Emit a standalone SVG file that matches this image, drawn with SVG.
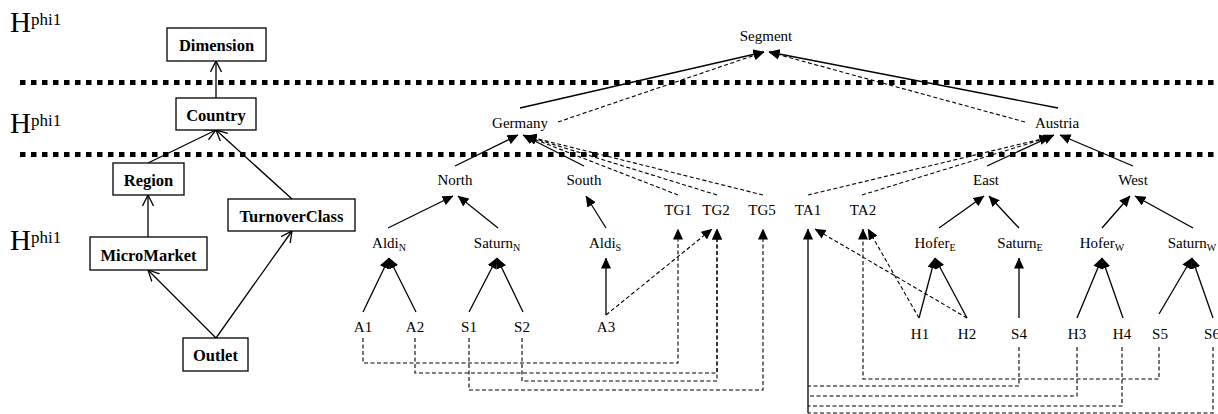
<svg xmlns="http://www.w3.org/2000/svg" width="1218" height="414" viewBox="0 0 1218 414">
<style>
.box{fill:#fff;stroke:#000;stroke-width:1.3}
.bl{font-family:"Liberation Serif","Times New Roman",serif;font-weight:bold;font-size:16.5px;text-anchor:middle;fill:#000}
.tl{font-family:"Liberation Serif","Times New Roman",serif;font-size:15px;text-anchor:middle;fill:#000}
.sub{font-size:10px}
.hl{font-family:"Liberation Serif","Times New Roman",serif;font-size:29px;fill:#000}
.hs{font-size:17px}
.sep{stroke:#000;stroke-width:5;stroke-dasharray:5.5 5.5;fill:none}
.s{stroke:#000;stroke-width:1.3;fill:none}
.d{stroke:#000;stroke-width:1.1;stroke-dasharray:4 2.5;fill:none}
.ta{marker-end:url(#fa)}
.oa{marker-end:url(#oa)}
</style>
<defs>
<marker id="fa" viewBox="0 0 11 10" refX="10.5" refY="5" markerWidth="11" markerHeight="10" markerUnits="userSpaceOnUse" orient="auto">
<path d="M0,0 L11,5 L0,10 z" fill="#000"/>
</marker>
<marker id="oa" viewBox="0 0 12 12" refX="11" refY="6" markerWidth="12" markerHeight="12" markerUnits="userSpaceOnUse" orient="auto">
<path d="M0,0.5 L11,6 L0,11.5" fill="none" stroke="#000" stroke-width="1.3"/>
</marker>
</defs>

<g id="levels">
<text class="hl" x="10" y="32">H<tspan class="hs" dy="-7">phi1</tspan></text>
<text class="hl" x="10" y="133">H<tspan class="hs" dy="-7">phi1</tspan></text>
<text class="hl" x="10" y="250">H<tspan class="hs" dy="-7">phi1</tspan></text>
<line class="sep" x1="20" y1="82.5" x2="1218" y2="82.5"/>
<line class="sep" x1="20" y1="154.5" x2="1218" y2="154.5"/>
</g>

<g id="connectors">
<!-- schema -->
<line class="s oa" x1="216" y1="98" x2="216" y2="61"/>
<line class="s oa" x1="148" y1="163" x2="216" y2="130"/>
<line class="s oa" x1="292" y1="199" x2="216" y2="130"/>
<line class="s oa" x1="148" y1="237" x2="148" y2="195"/>
<line class="s oa" x1="216" y1="338" x2="148" y2="270"/>
<line class="s oa" x1="216" y1="338" x2="292" y2="231"/>
<!-- to Segment -->
<line class="s ta" x1="520" y1="108" x2="764" y2="52"/>
<line class="d ta" x1="558" y1="122" x2="764" y2="52"/>
<line class="s ta" x1="1058" y1="108" x2="769" y2="52"/>
<line class="d ta" x1="1025" y1="122" x2="769" y2="52"/>
<!-- to Germany -->
<line class="s ta" x1="455" y1="166" x2="518" y2="135"/>
<line class="s ta" x1="584" y1="166" x2="523" y2="135"/>
<line class="d ta" x1="678" y1="195" x2="526" y2="136"/>
<line class="d ta" x1="717" y1="195" x2="526" y2="136"/>
<line class="d ta" x1="763" y1="195" x2="526" y2="136"/>
<!-- to Austria -->
<line class="s ta" x1="987" y1="166" x2="1054" y2="135"/>
<line class="s ta" x1="1133" y1="166" x2="1060" y2="135"/>
<line class="d ta" x1="808" y1="195" x2="1050" y2="137"/>
<line class="d ta" x1="862" y1="195" x2="1050" y2="137"/>
<!-- level 4 to level 2 -->
<line class="s ta" x1="388" y1="228" x2="453" y2="196"/>
<line class="s ta" x1="498" y1="228" x2="458" y2="196"/>
<line class="s ta" x1="606" y1="228" x2="586" y2="196"/>
<line class="s ta" x1="939" y1="228" x2="984" y2="196"/>
<line class="s ta" x1="1019" y1="228" x2="989" y2="196"/>
<line class="s ta" x1="1102" y1="228" x2="1130" y2="196"/>
<line class="s ta" x1="1193" y1="228" x2="1135" y2="196"/>
<!-- level 5 to level 4 -->
<line class="s ta" x1="363" y1="312" x2="389" y2="258"/>
<line class="s ta" x1="416" y1="312" x2="389" y2="258"/>
<line class="s ta" x1="469" y1="312" x2="497" y2="258"/>
<line class="s ta" x1="523" y1="312" x2="497" y2="258"/>
<line class="s ta" x1="606" y1="315" x2="606" y2="258"/>
<line class="s ta" x1="919" y1="318" x2="935" y2="258"/>
<line class="s ta" x1="967" y1="318" x2="935" y2="258"/>
<line class="s ta" x1="1019" y1="318" x2="1019" y2="258"/>
<line class="s ta" x1="1077" y1="318" x2="1102" y2="258"/>
<line class="s ta" x1="1123" y1="318" x2="1102" y2="258"/>
<line class="s ta" x1="1159" y1="314" x2="1192" y2="258"/>
<line class="s ta" x1="1213" y1="318" x2="1192" y2="258"/>
<!-- level 5 to level 3 -->
<line class="d ta" x1="606" y1="315" x2="712" y2="229"/>
<line class="d ta" x1="919" y1="318" x2="868" y2="229"/>
<line class="d ta" x1="967" y1="318" x2="815" y2="229"/>
<path class="d ta" d="M363,338 V363 H678 V229"/>
<path class="d ta" d="M415,338 V373 H717 V229"/>
<path class="d ta" d="M522,338 V381 H717 V229"/>
<path class="d ta" d="M469,338 V390 H763 V229"/>
<path class="d ta" d="M1159,347 V379 H863 V229"/>
<path class="d" d="M1019,347 V386 H808"/>
<path class="d" d="M1077,347 V396 H808"/>
<path class="d" d="M1122,347 V406 H808"/>
<path class="d" d="M1213,347 V413 H808"/>
<line class="s ta" x1="808" y1="413" x2="808" y2="229"/>
</g>

<g id="n-dimension"><rect class="box" x="167" y="28" width="99" height="33"/><text class="bl" x="216.5" y="51">Dimension</text></g>
<g id="n-country"><rect class="box" x="176" y="98" width="80" height="32"/><text class="bl" x="216" y="121">Country</text></g>
<g id="n-region"><rect class="box" x="113" y="163" width="71" height="32"/><text class="bl" x="148.5" y="186">Region</text></g>
<g id="n-turnoverclass"><rect class="box" x="228" y="199" width="127" height="32"/><text class="bl" x="291.5" y="222">TurnoverClass</text></g>
<g id="n-micromarket"><rect class="box" x="90" y="237" width="117" height="33"/><text class="bl" x="148.5" y="261">MicroMarket</text></g>
<g id="n-outlet"><rect class="box" x="183" y="338" width="65" height="33"/><text class="bl" x="215.5" y="361">Outlet</text></g>

<g id="n-segment"><text class="tl" x="766" y="41">Segment</text></g>
<g id="n-germany"><text class="tl" x="520" y="128">Germany</text></g>
<g id="n-austria"><text class="tl" x="1057" y="128">Austria</text></g>
<g id="n-north"><text class="tl" x="455" y="185">North</text></g>
<g id="n-south"><text class="tl" x="584" y="185">South</text></g>
<g id="n-east"><text class="tl" x="986" y="185">East</text></g>
<g id="n-west"><text class="tl" x="1133" y="185">West</text></g>
<g id="n-tg1"><text class="tl" x="678" y="215">TG1</text></g>
<g id="n-tg2"><text class="tl" x="716" y="215">TG2</text></g>
<g id="n-tg5"><text class="tl" x="762" y="215">TG5</text></g>
<g id="n-ta1"><text class="tl" x="808" y="215">TA1</text></g>
<g id="n-ta2"><text class="tl" x="863" y="215">TA2</text></g>
<g id="n-aldin"><text class="tl" x="389" y="248">Aldi<tspan class="sub" dy="3">N</tspan></text></g>
<g id="n-saturnn"><text class="tl" x="497" y="248">Saturn<tspan class="sub" dy="3">N</tspan></text></g>
<g id="n-aldis"><text class="tl" x="605" y="248">Aldi<tspan class="sub" dy="3">S</tspan></text></g>
<g id="n-hofere"><text class="tl" x="935" y="248">Hofer<tspan class="sub" dy="3">E</tspan></text></g>
<g id="n-saturne"><text class="tl" x="1020" y="248">Saturn<tspan class="sub" dy="3">E</tspan></text></g>
<g id="n-hoferw"><text class="tl" x="1102" y="248">Hofer<tspan class="sub" dy="3">W</tspan></text></g>
<g id="n-saturnw"><text class="tl" x="1192" y="248">Saturn<tspan class="sub" dy="3">W</tspan></text></g>
<g id="n-a1"><text class="tl" x="363" y="332">A1</text></g>
<g id="n-a2"><text class="tl" x="415" y="332">A2</text></g>
<g id="n-s1"><text class="tl" x="469" y="332">S1</text></g>
<g id="n-s2"><text class="tl" x="522" y="332">S2</text></g>
<g id="n-a3"><text class="tl" x="606" y="332">A3</text></g>
<g id="n-h1"><text class="tl" x="920" y="339">H1</text></g>
<g id="n-h2"><text class="tl" x="967" y="339">H2</text></g>
<g id="n-s4"><text class="tl" x="1019" y="339">S4</text></g>
<g id="n-h3"><text class="tl" x="1077" y="339">H3</text></g>
<g id="n-h4"><text class="tl" x="1122" y="339">H4</text></g>
<g id="n-s5"><text class="tl" x="1160" y="339">S5</text></g>
<g id="n-s6"><text class="tl" x="1212" y="339">S6</text></g>
</svg>
